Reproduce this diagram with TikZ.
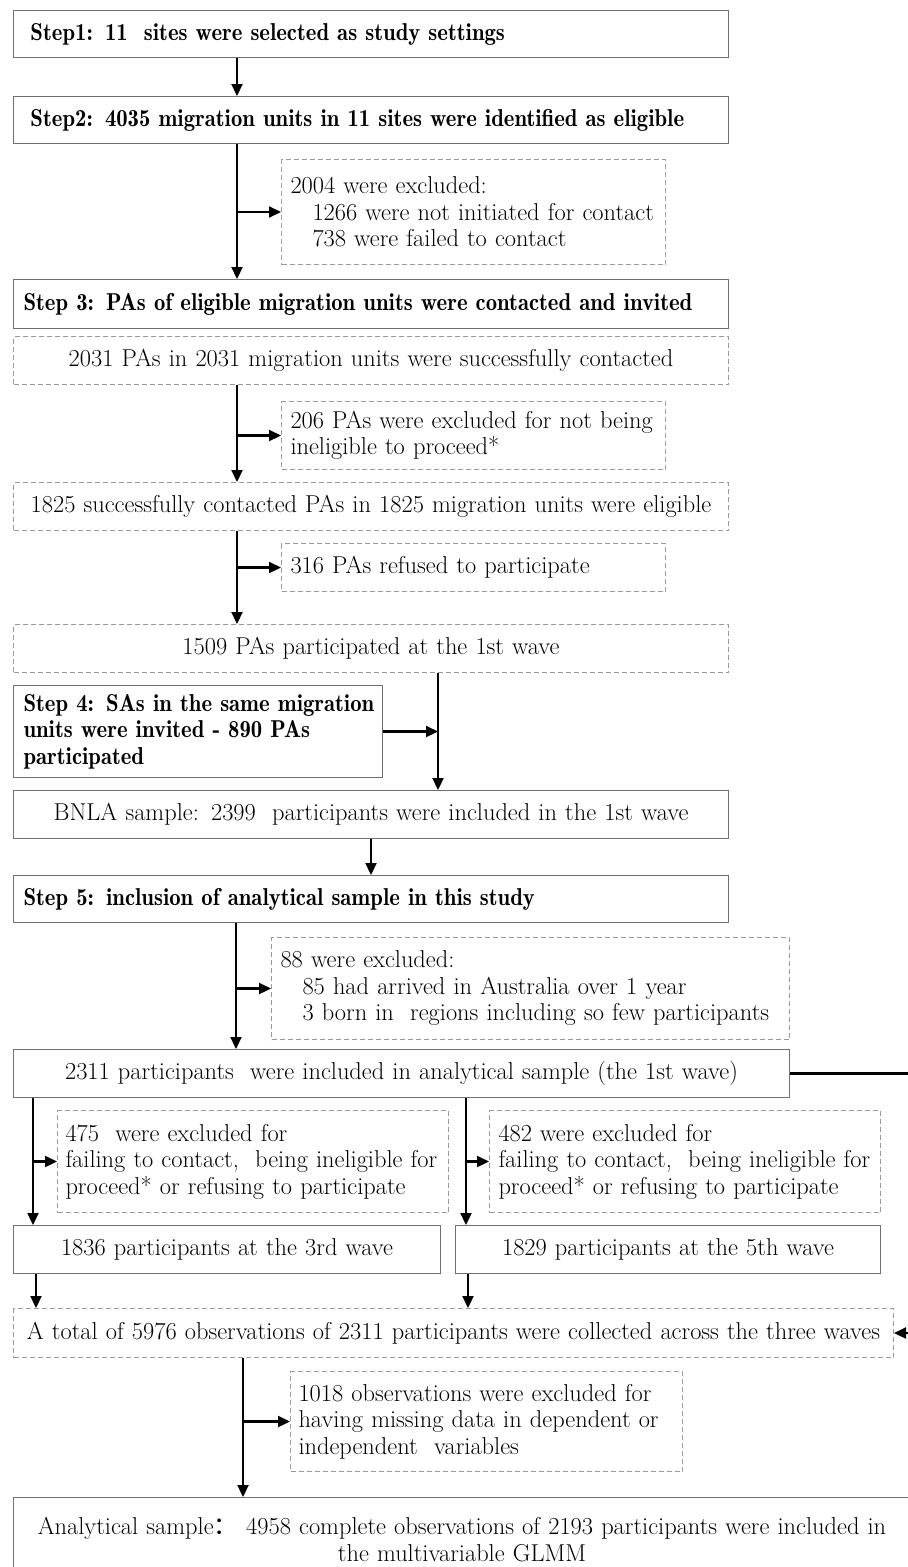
\documentclass[tikz,border=0pt]{standalone}
\usepackage{fontspec}
\usetikzlibrary{arrows.meta}
\newfontfamily\cjk{Noto Sans CJK SC}
\newfontfamily\demi[FakeStretch=0.93]{lmromandemi10-regular.otf}
\definecolor{boxgray}{HTML}{707070}
\definecolor{dashgray}{HTML}{9A9A9A}
\tikzset{
  x=1pt, y=-1pt,
  base/.style={anchor=north west, inner ysep=0pt, font=\fontsize{24.4}{26.5}\selectfont},
  sbox/.style={base, draw=boxgray, line width=1pt},
  dbox/.style={base, draw=dashgray, line width=1pt, dash pattern=on 5pt off 3pt},
  hdr/.style={font=\fontsize{24.4}{26.5}\selectfont\demi},
  arr/.style={line width=2.2pt, -{Triangle[length=12pt,width=11pt]}},
  ln/.style={line width=2.2pt}
}
\begin{document}
\begin{tikzpicture}
\useasboundingbox (0,0) rectangle (908,1567);
\clip (0,0) rectangle (908,1567);
% boxes
\node[sbox, hdr, minimum width=715pt, minimum height=47pt, inner xsep=17pt, text width=681pt, align=left] (s1) at (13,10) {\mbox{Step1: 11\ \ sites were selected as study settings}};
\node[sbox, hdr, minimum width=715pt, minimum height=47pt, inner xsep=17pt, text width=681pt, align=left] (s2) at (13,96) {\mbox{Step2: 4035 migration units in 11 sites were identified as eligible}};
\node[dbox, minimum width=384pt, minimum height=105pt, inner xsep=9pt, text width=366pt, align=left] (e1) at (281,159) {2004 were excluded:\\\hspace*{22pt}1266 were not initiated for contact\\\hspace*{22pt}738 were failed to contact};
\node[sbox, hdr, minimum width=715pt, minimum height=49pt, inner xsep=10pt, text width=695pt, align=left] (s3) at (13,279) {\mbox{Step 3: PAs of eligible migration units were contacted and invited}};
\node[dbox, minimum width=715pt, minimum height=48pt, inner xsep=10pt, text width=695pt, align=center] (c2031) at (13,336) {2031 PAs in 2031 migration units were successfully contacted};
\node[dbox, minimum width=384pt, minimum height=68pt, inner xsep=9pt, text width=366pt, align=left] (e2) at (281,401) {\mbox{206 PAs were excluded for not being}\\ineligible to proceed*};
\node[dbox, minimum width=715pt, minimum height=48pt, inner xsep=10pt, text width=695pt, align=center] (c1825) at (13,482) {\mbox{1825 successfully contacted PAs in 1825 migration units were eligible}};
\node[dbox, minimum width=384pt, minimum height=48pt, inner xsep=9pt, text width=366pt, align=left] (e3) at (281,543) {316 PAs refused to participate};
\node[dbox, minimum width=715pt, minimum height=48pt, inner xsep=10pt, text width=695pt, align=center] (c1509) at (13,624) {1509 PAs participated at the 1st wave};
\node[sbox, hdr, minimum width=369pt, minimum height=92pt, inner xsep=10pt, text width=349pt, align=left] (s4) at (13,685) {\mbox{Step 4: SAs in the same migration}\\\mbox{units were invited - 890 PAs}\\participated};
\node[sbox, minimum width=715pt, minimum height=48pt, inner xsep=10pt, text width=695pt, align=center] (bnla) at (13,790) {BNLA sample: 2399\ \ participants were included in the 1st wave};
\node[sbox, hdr, minimum width=715pt, minimum height=47pt, inner xsep=10pt, text width=695pt, align=left] (s5) at (13,875) {\mbox{Step 5: inclusion of analytical sample in this study}};
\node[dbox, minimum width=518pt, minimum height=102pt, inner xsep=9pt, text width=500pt, align=left] (e4) at (271,937) {88 were excluded:\\\hspace*{22pt}85 had arrived in Australia over 1 year\\\hspace*{22pt}\mbox{3 born in\ \ regions including so few participants}};
\node[sbox, minimum width=776pt, minimum height=48pt, inner xsep=10pt, text width=756pt, align=center] (p2311) at (13,1049) {2311 participants\ \ were included in analytical sample (the 1st wave)};
\node[dbox, minimum width=391pt, minimum height=102pt, inner xsep=8pt, text width=375pt, align=left] (e5) at (57,1110) {475\ \ were excluded for\\\mbox{failing to contact,\ \ being ineligible for}\\\mbox{proceed* or refusing to participate}};
\node[dbox, minimum width=391pt, minimum height=102pt, inner xsep=9pt, text width=373pt, align=left] (e6) at (489,1110) {482 were excluded for\\\mbox{failing to contact,\ \ being ineligible for}\\\mbox{proceed* or refusing to participate}};
\node[sbox, minimum width=427pt, minimum height=48pt, inner xsep=10pt, text width=407pt, align=center] (w3) at (13,1225) {1836 participants at the 3rd wave};
\node[sbox, minimum width=425pt, minimum height=48pt, inner xsep=10pt, text width=405pt, align=center] (w5) at (455,1225) {1829 participants at the 5th wave};
\node[dbox, minimum width=880pt, minimum height=49pt, inner xsep=6pt, text width=868pt, align=center] (total) at (13,1308) {\mbox{A total of 5976 observations of 2311 participants were collected across the three waves}};
\node[dbox, minimum width=392pt, minimum height=100pt, inner xsep=8pt, text width=376pt, align=left] (e7) at (290,1371) {\mbox{1018 observations were excluded for}\\\mbox{having missing data in dependent or}\\independent\ \ variables};
\node[sbox, minimum width=897pt, inner xsep=10pt, text width=877pt, align=center] (final) at (13,1497) {\rule{0pt}{37pt}\mbox{Analytical sample{\cjk ：}\ 4958 complete observations of 2193 participants were included in}\\the multivariable GLMM\rule[-40pt]{0pt}{0pt}};
% vertical line positions
\coordinate (xa) at (237,0);
\coordinate (xb) at (438,0);
\coordinate (xc) at (371,0);
\coordinate (xd) at (236,0);
\coordinate (xe) at (33,0);
\coordinate (xf) at (466,0);
\coordinate (xg) at (36,0);
\coordinate (xh) at (468,0);
\coordinate (xi) at (243,0);
\coordinate (xr) at (930,0);
% connectors
\draw[arr] (s1.south -| xa) -- (s2.north -| xa);
\draw[arr] (s2.south -| xa) -- (s3.north -| xa);
\draw[arr] (xa |- e1.west) -- (e1.west);
\draw[arr] (c2031.south -| xa) -- (c1825.north -| xa);
\draw[arr] (xa |- e2.west) -- (e2.west);
\draw[arr] (c1825.south -| xa) -- (c1509.north -| xa);
\draw[arr] (xa |- e3.west) -- (e3.west);
\draw[arr] (c1509.south -| xb) -- (bnla.north -| xb);
\draw[arr] (s4.east) -- (xb |- s4.east);
\draw[arr] (bnla.south -| xc) -- (s5.north -| xc);
\draw[arr] (s5.south -| xd) -- (p2311.north -| xd);
\draw[arr] (xd |- e4.west) -- (e4.west);
\draw[arr] (p2311.south -| xe) -- (w3.north -| xe);
\draw[arr] (xe |- e5.west) -- (e5.west);
\draw[arr] (p2311.south -| xf) -- (w5.north -| xf);
\draw[arr] (xf |- e6.west) -- (e6.west);
\draw[arr] (w3.south -| xg) -- (total.north -| xg);
\draw[arr] (w5.south -| xh) -- (total.north -| xh);
\draw[arr] (p2311.east) -- (xr |- p2311.east) -- (xr |- total.east) -- (total.east);
\draw[arr] (total.south -| xi) -- (final.north -| xi);
\draw[arr] (xi |- e7.west) -- (e7.west);
\end{tikzpicture}
\end{document}
